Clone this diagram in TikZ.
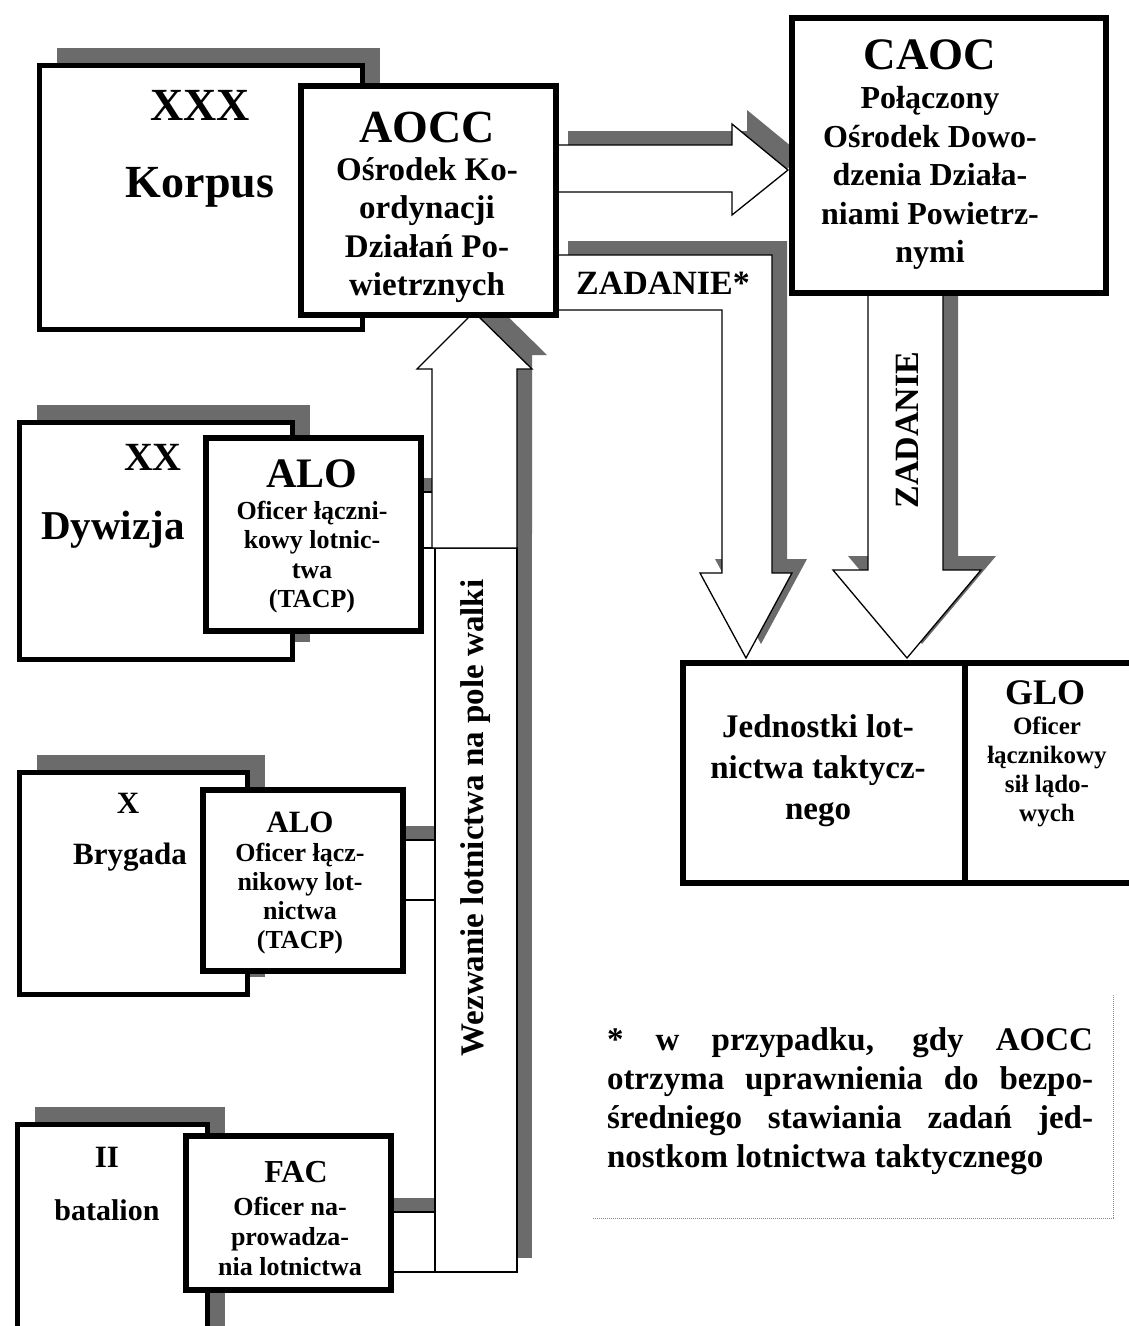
\documentclass[tikz,border=0pt]{standalone}
\usepackage{fontspec}
\setmainfont{Liberation Serif}
\usetikzlibrary{shadows}

\tikzset{
  hatch/.style={drop shadow={shadow xshift=15pt,shadow yshift=14pt,fill=black!58,opacity=1}},
  bandhatch/.style={drop shadow={shadow xshift=0pt,shadow yshift=14pt,fill=black!58,opacity=1}},
  unitbox/.style={draw, line width=4.5pt, fill=white, anchor=north west, inner sep=0pt,
    drop shadow={shadow xshift=18pt,shadow yshift=17pt,fill=black!58,opacity=1}},
  cellbox/.style={draw, line width=5.5pt, fill=white, anchor=north west, inner sep=0pt},
  block/.style={draw, line width=1.3pt, fill=white},
  txtbig/.style={font=\fontsize{46}{50}\selectfont\bfseries, inner sep=0pt},
  txtmid/.style={font=\fontsize{33}{38.5}\selectfont\bfseries, align=center, inner sep=0pt},
  txtsub/.style={font=\fontsize{31}{34}\selectfont\bfseries, inner sep=0pt},
  txtsmall/.style={font=\fontsize{26}{29.5}\selectfont\bfseries, align=center, inner sep=0pt},
}

\begin{document}
\begin{tikzpicture}[x=1pt,y=-1pt]
\useasboundingbox (0,0) rectangle (1128,1326);

% units
\node[unitbox, minimum width=323pt, minimum height=264pt] (korpus) at (37,63) {};
\node[unitbox, minimum width=273pt, minimum height=237pt] (dywizja) at (17,420) {};
\node[unitbox, minimum width=228pt, minimum height=222pt] (brygada) at (17,770) {};
\node[unitbox, minimum width=190pt, minimum height=230pt] (batalion) at (15,1122) {};

% bands to the call column
\draw[block, bandhatch] (418,492) rectangle (436,548);
\draw[block, bandhatch] (400,840) rectangle (436,900);
\draw[block, bandhatch] (388,1212) rectangle (437,1272);

% call column
\draw[block, hatch] (435,548) rectangle (517,1272);
\draw[block, hatch] (432,548) -- (432,369) -- (417,369) -- (474,312) -- (532,369)
  -- (517,369) -- (517,548) -- cycle;
\node[txtmid, rotate=90] (wezwanie) at (476,818) {Wezwanie lotnictwa na pole walki};

% task arrows
\draw[block, hatch] (553,145) -- (732,145) -- (732,124) -- (788,170) -- (732,215)
  -- (732,192) -- (553,192) -- cycle;
\draw[block, hatch] (553,255) -- (772,255) -- (772,573) -- (792,573) -- (746,658)
  -- (700,573) -- (722,573) -- (722,310) -- (553,310) -- cycle;
\draw[block, hatch] (868,290) -- (943,290) -- (943,570) -- (981,570) -- (907,658)
  -- (833,570) -- (868,570) -- cycle;
\node[txtmid, font=\fontsize{34}{38}\selectfont\bfseries] (zadanie1) at (663,283) {ZADANIE*};
\node[txtmid, font=\fontsize{34}{38}\selectfont\bfseries, rotate=90] (zadanie2) at (907,430) {ZADANIE};

% command cells
\node[cellbox, minimum width=255pt, minimum height=229pt] (aocc) at (298,83) {};
\node[cellbox, minimum width=314pt, minimum height=275pt] (caoc) at (789,15) {};
\node[cellbox, minimum width=215pt, minimum height=193pt] (aloxx) at (203,435) {};
\node[cellbox, minimum width=200pt, minimum height=181pt] (alox) at (200,787) {};
\node[cellbox, minimum width=205pt, minimum height=154pt] (fac) at (183,1133) {};
\node[cellbox, minimum width=282pt, minimum height=220pt] (jednostki) at (680,660) {};
\node[cellbox, minimum width=180pt, minimum height=220pt] (glo) at (962,660) {};

% texts
\node[txtbig] (xxx) at (200,105) {XXX};
\node[txtbig] (korpusname) at (200,187) {Korpus};
\node[txtbig] (aocctitle) at (427,127) {AOCC};
\node[txtmid] (aoccbody) at (427,230) {Ośrodek Ko-\\ordynacji\\Działań Po-\\wietrznych};
\node[txtbig, font=\fontsize{45}{50}\selectfont\bfseries] (caoctitle) at (930,55) {CAOC};
\node[txtmid, font=\fontsize{32}{38.5}\selectfont\bfseries] (caocbody) at (930,178)
  {Połączony\\Ośrodek Dowo-\\dzenia Działa-\\niami Powietrz-\\nymi};

\node[txtbig, font=\fontsize{40}{44}\selectfont\bfseries] (xx) at (153,457) {XX};
\node[txtbig, font=\fontsize{41}{44}\selectfont\bfseries] (dywizjaname) at (113,530) {Dywizja};
\node[txtbig, font=\fontsize{42}{44}\selectfont\bfseries] (aloxxtitle) at (312,474) {ALO};
\node[txtsmall] (aloxxbody) at (312,557) {Oficer łączni-\\kowy lotnic-\\twa\\(TACP)};

\node[txtsub] (x) at (128,803) {X};
\node[txtsub] (brygadaname) at (130,857) {Brygada};
\node[txtsub] (aloxtitle) at (300,822) {ALO};
\node[txtsmall, font=\fontsize{26}{29}\selectfont\bfseries] (aloxbody) at (300,899)
  {Oficer łącz-\\nikowy lot-\\nictwa\\(TACP)};

\node[txtsub] (ii) at (107,1157) {II};
\node[txtsub, font=\fontsize{30}{34}\selectfont\bfseries] (batalionname) at (107,1210) {batalion};
\node[txtsub, font=\fontsize{32}{34}\selectfont\bfseries] (factitle) at (296,1172) {FAC};
\node[txtsmall, font=\fontsize{26}{30}\selectfont\bfseries] (facbody) at (290,1236)
  {Oficer na-\\prowadza-\\nia lotnictwa};

\node[txtmid, font=\fontsize{33}{41}\selectfont\bfseries] (jednostkibody) at (818,771)
  {Jednostki lot-\\nictwa taktycz-\\nego};
\node[txtsub, font=\fontsize{36}{40}\selectfont\bfseries] (glotitle) at (1045,693) {GLO};
\node[txtsmall, font=\fontsize{25}{29}\selectfont\bfseries] (globody) at (1047,772)
  {Oficer\\łącznikowy\\sił lądo-\\wych};

% footnote
\node[font=\fontsize{33}{39}\selectfont\bfseries, text width=486pt, align=justify,
  inner sep=0pt] (note) at (850,1101)
  {* w przypadku, gdy AOCC\linebreak otrzyma uprawnienia do bezpo-\linebreak
   średniego stawiania zadań jed-\linebreak nostkom lotnictwa taktycznego};
\draw[black!45, densely dotted, line width=1pt] (1113,995) -- (1113,1218) -- (592,1218);

\end{tikzpicture}
\end{document}
